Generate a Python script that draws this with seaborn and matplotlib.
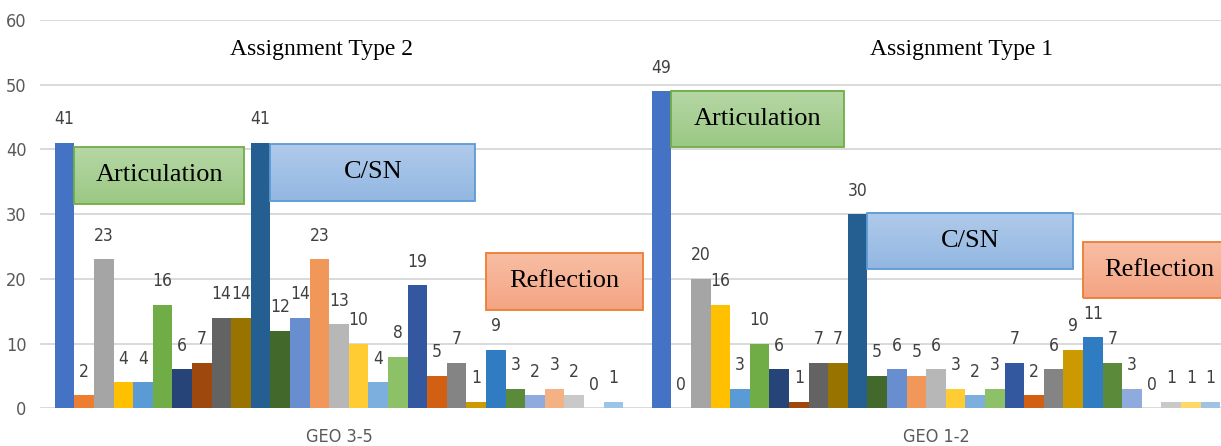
import numpy as np
import pandas as pd
import matplotlib
matplotlib.use("Agg")
import matplotlib.pyplot as plt
from matplotlib import font_manager
from matplotlib.patches import Rectangle
from matplotlib.colors import to_rgb
import seaborn as sns

# ---------------- data ----------------
groups = ["GEO 3-5", "GEO 1-2"]
series = [f"S{i}" for i in range(1, 30)]
geo35 = [41, 2, 23, 4, 4, 16, 6, 7, 14, 14, 41, 12, 14, 23, 13, 10, 4, 8, 19, 5, 7, 1, 9, 3, 2, 3, 2, 0, 1]
geo12 = [49, 0, 20, 16, 3, 10, 6, 1, 7, 7, 30, 5, 6, 5, 6, 3, 2, 3, 7, 2, 6, 9, 11, 7, 3, 0, 1, 1, 1]
titles = ["Assignment Type 2", "Assignment Type 1"]
y_ticks = [0, 10, 20, 30, 40, 50, 60]

colors = ["#4472C4", "#ED7D31", "#A5A5A5", "#FFC000", "#5B9BD5", "#70AD47",
          "#264478", "#9E480E", "#636363", "#997300", "#255E91", "#43682B",
          "#698ED0", "#F1975A", "#B7B7B7", "#FFCD33", "#7CAFDD", "#8CC168",
          "#3358A0", "#D26012", "#848484", "#CC9A00", "#307CC2", "#5B8B3A",
          "#8FAADC", "#F4B183", "#C9C9C9", "#FFD966", "#9DC3E6"]

df = pd.DataFrame({
    "group": np.repeat(groups, len(series)),
    "series": series * 2,
    "value": geo35 + geo12,
})

# ---------------- fonts ----------------
names = {f.name for f in font_manager.fontManager.ttflist}
narrow = "Liberation Sans Narrow" if "Liberation Sans Narrow" in names else "DejaVu Sans"
narrow_kw = {"family": narrow}
if narrow == "DejaVu Sans":
    narrow_kw["stretch"] = "condensed"
serif = "Liberation Serif"

sns.set_theme(style="white")
plt.rcParams["font.family"] = [narrow, "DejaVu Sans"]

W, H = 1221, 446
fig = plt.figure(figsize=(W / 100, H / 100), dpi=100)
ax_left, ax_right = 40.5, 1234.5
y0_px, y60_px = 408.3, 20.0
ax = fig.add_axes([ax_left / W, (H - y0_px) / H, (ax_right - ax_left) / W, (y0_px - y60_px) / H])

bar_w = 0.952
sns.barplot(data=df, x="group", y="value", hue="series", order=groups,
            hue_order=series, palette=colors, width=bar_w, dodge=True,
            saturation=1, errorbar=None, legend=False, linewidth=0, ax=ax)

for cont in ax.containers:
    ax.bar_label(cont, padding=10.5, fontsize=12.5, color="#404040", **narrow_kw)

ax.set_xlim(-0.5, 1.5)
ax.set_ylim(0, 60)
ax.set_yticks(y_ticks)
ax.yaxis.grid(True, color="#D9D9D9", lw=1.4)
ax.set_axisbelow(True)
for s in ax.spines.values():
    s.set_visible(False)
ax.set_xlabel("")
ax.set_ylabel("")
ax.tick_params(axis="both", length=0)
ax.tick_params(axis="y", pad=10)
ax.tick_params(axis="x", pad=14)
for lab in ax.get_yticklabels() + ax.get_xticklabels():
    lab.set_color("#595959")
    lab.set_fontsize(13)
    lab.set_family(narrow)
    if narrow == "DejaVu Sans":
        lab.set_stretch("condensed")

# ---------------- titles ----------------
title_x = [321, 962]
for t, xp in zip(titles, title_x):
    fig.text(xp / W, 1 - 50 / H, t, ha="center", va="center", fontsize=17,
             family=serif, color="black")

# ---------------- labelled boxes ----------------
bw = bar_w / len(series)
# (group index, starting bar index, width in bars, bottom, top, label, face top, face bottom, edge)
boxes = [
    (0, 1, 8.65, 31.6, 40.4, "Articulation", "#B6D7A5", "#9BC884", "#70AD47"),
    (0, 11, 10.45, 32.1, 40.8, "C/SN", "#B0CAEA", "#93B7E2", "#5B9BD5"),
    (0, 22, 8.0, 15.2, 24.0, "Reflection", "#F8BEA4", "#F4A483", "#ED7D31"),
    (1, 1, 8.8, 40.3, 49.0, "Articulation", "#B6D7A5", "#9BC884", "#70AD47"),
    (1, 11, 10.5, 21.5, 30.2, "C/SN", "#B0CAEA", "#93B7E2", "#5B9BD5"),
    (1, 22, 7.8, 17.1, 25.7, "Reflection", "#F8BEA4", "#F4A483", "#ED7D31"),
]
for gi, bi, nb, yb, yt, lab, ctop, cbot, cedge in boxes:
    x0 = gi - bar_w / 2 + bi * bw
    x1 = x0 + nb * bw
    grad = np.linspace(0, 1, 64)[:, None, None]
    img = (1 - grad) * np.array(to_rgb(ctop)) + grad * np.array(to_rgb(cbot))
    ax.imshow(img, extent=(x0, x1, yb, yt), aspect="auto", origin="upper",
              zorder=4, interpolation="bilinear")
    ax.add_patch(Rectangle((x0, yb), x1 - x0, yt - yb, fill=False,
                           edgecolor=cedge, lw=1.3, zorder=5))
    ax.text((x0 + x1) / 2, (yb + yt) / 2, lab, ha="center", va="center",
            fontsize=19, family=serif, color="black", zorder=6)

ax.set_xlim(-0.5, 1.5)
ax.set_ylim(0, 60)

fig.savefig("out.png", dpi=100)
